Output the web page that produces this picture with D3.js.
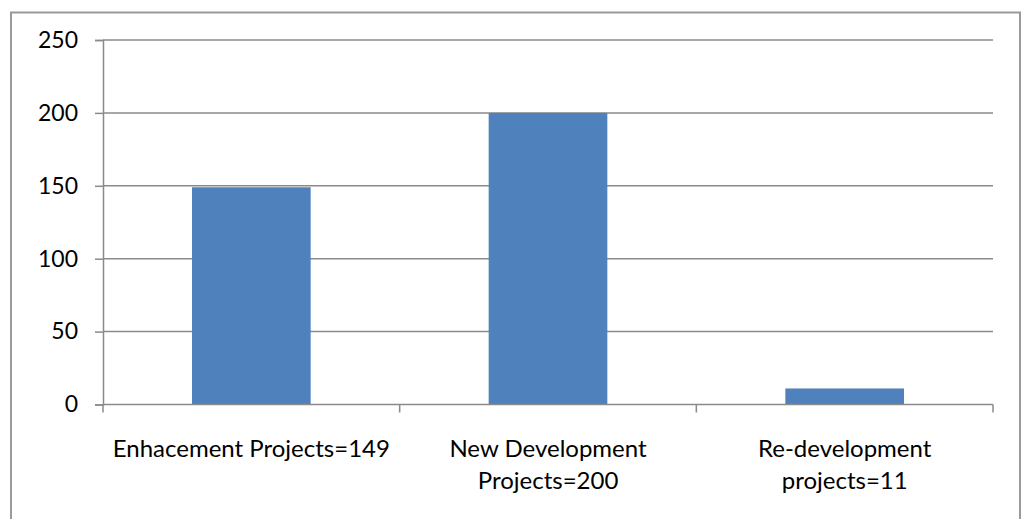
<!DOCTYPE html>
<html>
<head>
<meta charset="utf-8">
<script src="https://cdn.jsdelivr.net/npm/d3@7"></script>
<style>
  html, body { margin: 0; padding: 0; background: #fff; }
  svg { display: block; }
  text { font-family: Lato, "Liberation Sans", Arial, sans-serif; fill: #000; }
</style>
</head>
<body>
<svg id="chart" width="1024" height="519"></svg>
<script>
// Project counts by type
const categories = ["Enhacement Projects=149", "New Development Projects=200", "Re-development projects=11"];
const values = [149, 200, 11];
const categoryLabelLines = [
  ["Enhacement Projects=149"],
  ["New Development", "Projects=200"],
  ["Re-development", "projects=11"]
];
const yTicks = [0, 50, 100, 150, 200, 250];

const svg = d3.select("#chart");
const plot = { left: 103, right: 993, top: 40, bottom: 404.5 };
const fontFamily = "Lato, 'Liberation Sans', Arial, sans-serif";
const yFontSize = "23px";
const xFontSize = "24px";

// Chart frame
svg.append("rect")
  .attr("x", 11).attr("y", 12.5)
  .attr("width", 1009).attr("height", 530)
  .attr("fill", "none")
  .attr("stroke", "#9a9a9a")
  .attr("stroke-width", 2);

const x = d3.scaleBand()
  .domain(categories)
  .range([plot.left, plot.right])
  .paddingInner(0.6)
  .paddingOuter(0.3);

const xEdges = d3.scaleBand()
  .domain(categories)
  .range([plot.left, plot.right]);

const y = d3.scaleLinear()
  .domain([0, 250])
  .range([plot.bottom, plot.top]);

// Horizontal gridlines
svg.append("g")
  .selectAll("line")
  .data(yTicks.filter(d => d > 0))
  .join("line")
  .attr("x1", plot.left).attr("x2", plot.right)
  .attr("y1", d => y(d)).attr("y2", d => y(d))
  .attr("stroke", "#8a8a8a")
  .attr("stroke-width", 1.5);

// Bars
svg.append("g")
  .selectAll("rect")
  .data(values)
  .join("rect")
  .attr("x", (d, i) => x(categories[i]))
  .attr("width", x.bandwidth())
  .attr("y", d => y(d))
  .attr("height", d => y(0) - y(d))
  .attr("fill", "#4F81BD");

// Y axis
const yAxis = d3.axisLeft(y)
  .tickValues(yTicks)
  .tickSize(8)
  .tickPadding(17)
  .tickFormat(d3.format("d"));

const gy = svg.append("g")
  .attr("transform", `translate(${plot.left},0)`)
  .call(yAxis);
gy.select(".domain").attr("stroke", "#8a8a8a").attr("stroke-width", 1.5);
gy.selectAll(".tick line").attr("stroke", "#8a8a8a").attr("stroke-width", 1.5);
gy.selectAll(".tick text")
  .style("font-family", fontFamily)
  .style("font-size", yFontSize)
  .attr("fill", "#000");

// X axis baseline and category boundary ticks
const gx = svg.append("g");
gx.append("line")
  .attr("x1", plot.left).attr("x2", plot.right)
  .attr("y1", y(0)).attr("y2", y(0))
  .attr("stroke", "#8a8a8a").attr("stroke-width", 1.5);

const edges = categories.map(c => xEdges(c)).concat([xEdges.range()[1]]);
gx.selectAll("line.edge")
  .data(edges)
  .join("line")
  .attr("class", "edge")
  .attr("x1", d => d).attr("x2", d => d)
  .attr("y1", y(0)).attr("y2", y(0) + 8)
  .attr("stroke", "#8a8a8a").attr("stroke-width", 1.5);

// Category labels
const labels = svg.append("g")
  .selectAll("text")
  .data(categoryLabelLines)
  .join("text")
  .attr("text-anchor", "middle")
  .style("font-family", fontFamily)
  .style("font-size", xFontSize)
  .attr("transform", (d, i) => `translate(${xEdges(categories[i]) + xEdges.bandwidth() / 2},${y(0) + 52})`);

labels.selectAll("tspan")
  .data(d => d)
  .join("tspan")
  .attr("x", 0)
  .attr("y", (d, i) => i * 32)
  .text(d => d);
</script>
</body>
</html>
